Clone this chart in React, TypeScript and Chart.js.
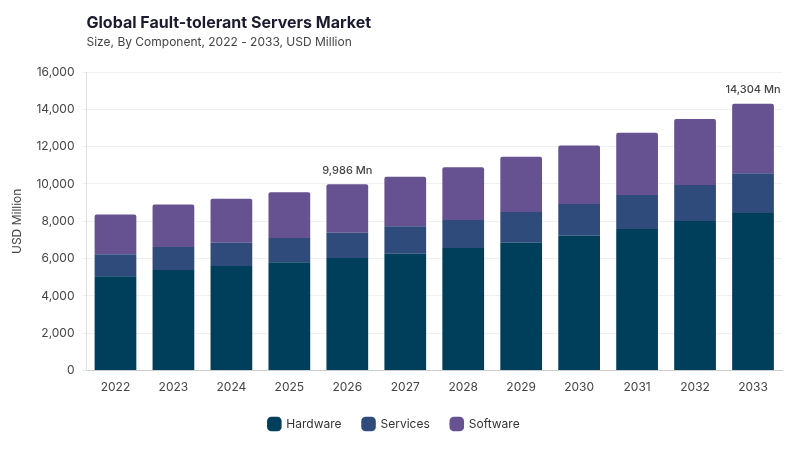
import React, { useEffect, useRef } from "react";
import { Chart, registerables, Plugin } from "chart.js";

Chart.register(...registerables);

const years = ["2022", "2023", "2024", "2025", "2026", "2027", "2028", "2029", "2030", "2031", "2032", "2033"];
const hardware = [5060, 5390, 5600, 5800, 6030, 6260, 6570, 6850, 7230, 7590, 8020, 8450];
const services = [1170, 1230, 1255, 1305, 1360, 1470, 1500, 1650, 1700, 1820, 1930, 2130];
const software = [2130, 2280, 2360, 2450, 2596, 2660, 2830, 2954, 3130, 3330, 3530, 3724];
const labelled = ["2026", "2033"];

const FONT = "Inter, 'Noto Sans', sans-serif";

const headerPlugin: Plugin<"bar"> = {
    id: "header",
    afterDraw(chart) {
        const { ctx, chartArea } = chart;
        ctx.save();
        ctx.textAlign = "left";
        ctx.textBaseline = "alphabetic";
        ctx.fillStyle = "#1b1b2f";
        ctx.font = `bold 16px ${FONT}`;
        ctx.fillText("Global Fault-tolerant Servers Market", chartArea.left, 28);
        ctx.fillStyle = "#444";
        ctx.font = `12px ${FONT}`;
        ctx.fillText("Size, By Component, 2022 - 2033, USD Million", chartArea.left, 46);
        ctx.restore();
    },
};

const totalsPlugin: Plugin<"bar"> = {
    id: "totals",
    afterDatasetsDraw(chart) {
        const { ctx } = chart;
        const meta = chart.getDatasetMeta(2);
        ctx.save();
        ctx.font = `500 11px ${FONT}`;
        ctx.fillStyle = "#444";
        ctx.textAlign = "center";
        ctx.textBaseline = "bottom";
        years.forEach((y, i) => {
            if (!labelled.includes(y)) return;
            const total = hardware[i] + services[i] + software[i];
            const bar = meta.data[i];
            ctx.fillText(`${total.toLocaleString("en-US")} Mn`, bar.x, bar.y - 8);
        });
        ctx.restore();
    },
};

const App: React.FC = () => {
    const chartRef = useRef<HTMLCanvasElement | null>(null);

    useEffect(() => {
        document.body.style.margin = "0";
        if (!chartRef.current) return;
        const ctx = chartRef.current.getContext("2d");
        if (!ctx) return;

        const common = { borderWidth: 0, barPercentage: 0.72, categoryPercentage: 1 };

        const chart = new Chart(ctx, {
            type: "bar",
            data: {
                labels: years,
                datasets: [
                    { label: "Hardware", data: hardware, backgroundColor: "#003f5c", ...common },
                    { label: "Services", data: services, backgroundColor: "#2f4b7c", ...common },
                    {
                        label: "Software",
                        data: software,
                        backgroundColor: "#665191",
                        borderRadius: { topLeft: 2, topRight: 2, bottomLeft: 0, bottomRight: 0 },
                        borderSkipped: "bottom",
                        ...common,
                    },
                ],
            },
            options: {
                animation: false,
                responsive: true,
                maintainAspectRatio: false,
                layout: { padding: { top: 72, right: 18, left: 6, bottom: 10 } },
                scales: {
                    x: {
                        stacked: true,
                        grid: { display: false },
                        border: { color: "#ccc" },
                        ticks: { color: "#444", font: { family: FONT, size: 12 }, padding: 2 },
                    },
                    y: {
                        stacked: true,
                        min: 0,
                        max: 16000,
                        ticks: {
                            stepSize: 2000,
                            color: "#444",
                            font: { family: FONT, size: 12 },
                            padding: 8,
                            callback: (v) => Number(v).toLocaleString("en-US"),
                        },
                        grid: { color: "#f0f0f0", drawTicks: true, tickLength: 4 },
                        border: { color: "#e0e0e0" },
                        title: {
                            display: true,
                            text: "USD Million",
                            color: "#444",
                            font: { family: FONT, size: 12 },
                        },
                    },
                },
                plugins: {
                    legend: {
                        position: "bottom",
                        labels: {
                            usePointStyle: true,
                            pointStyle: "rectRounded",
                            boxWidth: 14,
                            boxHeight: 14,
                            padding: 21,
                            color: "#333",
                            font: { family: FONT, size: 12 },
                        },
                    },
                    tooltip: { enabled: false },
                },
            },
            plugins: [headerPlugin, totalsPlugin],
        });

        return () => {
            chart.destroy();
        };
    }, []);

    return (
        <div style={{ width: 800, height: 450, position: "relative" }}>
            <canvas ref={chartRef}></canvas>
        </div>
    );
};

export default App;
